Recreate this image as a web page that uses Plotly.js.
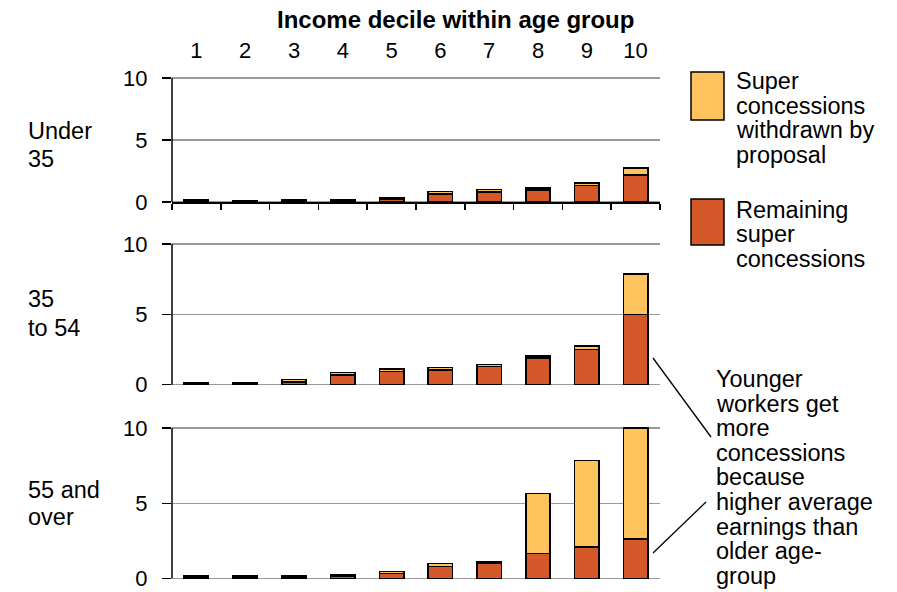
<!DOCTYPE html>
<html>
<head>
<meta charset="utf-8">
<script src="https://cdn.plot.ly/plotly-3.0.1.min.js"></script>
<style>
  html, body { margin: 0; padding: 0; background: #fff; }
  #chart { width: 897px; height: 592px; }
</style>
</head>
<body>
<div id="chart"></div>
<script>
// Income deciles (x categories)
const deciles = ['1', '2', '3', '4', '5', '6', '7', '8', '9', '10'];

// Age groups (one panel each), written line by line
const ageGroupLines = [['Under', '35'], ['35', 'to 54'], ['55 and', 'over']];

// Remaining super concessions by decile, per age group
const remainingUnder35 = [0.12, 0.06, 0.14, 0.14, 0.25, 0.66, 0.80, 0.95, 1.35, 2.16];
const remaining35to54  = [0.10, 0.10, 0.20, 0.70, 0.93, 1.05, 1.30, 1.89, 2.51, 5.00];
const remaining55plus  = [0.10, 0.10, 0.10, 0.18, 0.33, 0.79, 1.00, 1.66, 2.10, 2.62];

// Super concessions withdrawn by proposal, per age group
const withdrawnUnder35 = [0.06, 0.04, 0.06, 0.06, 0.10, 0.18, 0.20, 0.18, 0.19, 0.57];
const withdrawn35to54  = [0.05, 0.05, 0.16, 0.16, 0.17, 0.19, 0.14, 0.14, 0.24, 2.87];
const withdrawn55plus  = [0.05, 0.05, 0.05, 0.08, 0.13, 0.21, 0.11, 4.00, 5.74, 7.38];

// Value axis ticks
const yTicks = [0, 5, 10];

// Texts
const seriesNames = ['Remaining super concessions', 'Super concessions withdrawn by proposal'];
const legendWithdrawnLines = ['Super', 'concessions', 'withdrawn by', 'proposal'];
const legendRemainingLines = ['Remaining', 'super', 'concessions'];
const noteLines = ['Younger', 'workers get', 'more', 'concessions', 'because',
                   'higher average', 'earnings than', 'older age-', 'group'];
const axisTitle = '<b>Income decile within age group</b>';

// Styling
const RED = '#D5582B';
const YELLOW = '#FEC35C';
const FONT = 'Liberation Sans, Arial, sans-serif';
const TEXT_SIZE = 23.5;
const TICK_SIZE = 22;

// Page geometry (pixels) used to place panels, annotations and shapes
const W = 897, H = 592;
const M = { l: 172, r: 237, t: 75, b: 8 };
const PW = W - M.l - M.r, PH = H - M.t - M.b;
const px = x => (x - M.l) / PW;
const py = y => (H - M.b - y) / PH;

// Value range padded a little so the 0 and 10 grid lines are kept
const PAD = 0.2;
const yRange = [-PAD, 10 + PAD];
// domain of a panel whose 0 sits at pixel p0 and 10 at pixel p10
function panelDomain(p0, p10) {
  const unit = (p0 - p10) / 10;
  return [Math.max(0, py(p0 + PAD * unit)), Math.min(1, py(p10 - PAD * unit))];
}
const d1 = panelDomain(202, 78);
const d2 = panelDomain(384.7, 244);
const d3 = panelDomain(578.5, 428);

const remaining = [remainingUnder35, remaining35to54, remaining55plus];
const withdrawn = [withdrawnUnder35, withdrawn35to54, withdrawn55plus];
const yNames = ['y', 'y2', 'y3'];
const xNames = ['x', 'x2', 'x3'];

const traces = [];
for (let i = 0; i < 3; i++) {
  traces.push({
    type: 'bar', x: deciles, y: remaining[i], xaxis: xNames[i], yaxis: yNames[i],
    name: seriesNames[0], marker: { color: RED, line: { color: '#000', width: 1.5 } },
    showlegend: false, hoverinfo: 'skip'
  });
  traces.push({
    type: 'bar', x: deciles, y: withdrawn[i], xaxis: xNames[i], yaxis: yNames[i],
    name: seriesNames[1], marker: { color: YELLOW, line: { color: '#000', width: 1.5 } },
    showlegend: false, hoverinfo: 'skip'
  });
}

// Invisible trace that carries the decile labels along the top
traces.push({
  type: 'bar', x: deciles, y: deciles.map(() => 0), xaxis: 'x4', yaxis: 'y',
  showlegend: false, hoverinfo: 'skip', marker: { color: 'rgba(0,0,0,0)' }
});

const yBase = {
  range: yRange, tickvals: yTicks, ticks: 'outside', ticklen: 9, tickwidth: 1.5,
  tickcolor: '#000', showline: false,
  showgrid: true, gridcolor: '#9a9a9a', gridwidth: 1.2, zeroline: false,
  tickfont: { size: TICK_SIZE, color: '#000', family: FONT }, ticklabelstandoff: 10,
  ticklabeloverflow: 'allow', fixedrange: true
};
const xHidden = {
  type: 'category', range: [-0.5, 9.5], showline: false, ticks: '', showticklabels: false,
  showgrid: false, zeroline: false, fixedrange: true
};

// Text placed line by line with a fixed pitch
const annotations = [];
function addLines(lines, xLeft, yFirst, pitch, size) {
  lines.forEach((t, k) => {
    annotations.push({
      text: t, x: px(xLeft), y: py(yFirst + k * pitch), xref: 'paper', yref: 'paper',
      xanchor: 'left', yanchor: 'middle', align: 'left', showarrow: false,
      font: { size: size, color: '#000', family: FONT }
    });
  });
}

annotations.push({
  text: axisTitle, x: px(455), y: py(20), xref: 'paper', yref: 'paper',
  xanchor: 'center', yanchor: 'middle', showarrow: false,
  font: { size: 24, color: '#000', family: FONT }
});
addLines(ageGroupLines[0], 26, 131, 27.5, TEXT_SIZE);
addLines(ageGroupLines[1], 26, 299, 28.5, TEXT_SIZE);
addLines(ageGroupLines[2], 26, 490, 27, TEXT_SIZE);
addLines(legendWithdrawnLines, 734, 81, 24.5, TEXT_SIZE);
addLines(legendRemainingLines, 734, 210, 24.5, TEXT_SIZE);
addLines(noteLines, 714, 379, 24.6, TEXT_SIZE);

const shapes = [];
// left axis line of each panel, running from 0 to 10
yNames.forEach(yn => {
  shapes.push({ type: 'line', xref: 'x domain', yref: yn, x0: 0, x1: 0, y0: yTicks[0], y1: yTicks[2],
    line: { color: '#000', width: 1.5 }, layer: 'above' });
});
// legend swatches
shapes.push({ type: 'rect', xref: 'paper', yref: 'paper', x0: px(691), x1: px(724), y0: py(120), y1: py(72),
  fillcolor: YELLOW, line: { color: '#000', width: 1.5 } });
shapes.push({ type: 'rect', xref: 'paper', yref: 'paper', x0: px(691), x1: px(724), y0: py(245), y1: py(199),
  fillcolor: RED, line: { color: '#000', width: 1.5 } });
// callout leader lines
shapes.push({ type: 'line', xref: 'paper', yref: 'paper', x0: px(653), y0: py(358), x1: px(711), y1: py(437),
  line: { color: '#000', width: 1.3 } });
shapes.push({ type: 'line', xref: 'paper', yref: 'paper', x0: px(653), y0: py(553), x1: px(706), y1: py(502),
  line: { color: '#000', width: 1.3 } });

const layout = {
  width: W, height: H,
  margin: M,
  paper_bgcolor: '#fff', plot_bgcolor: 'rgba(0,0,0,0)',
  barmode: 'stack', bargap: 0.5,
  showlegend: false,
  font: { family: FONT, color: '#000', size: TEXT_SIZE },
  // baseline axis of the top panel, drawn at the value 0
  xaxis: {
    type: 'category', range: [-0.5, 9.5], anchor: 'free', position: py(202), side: 'bottom',
    showline: true, linecolor: '#000', linewidth: 1.5,
    ticks: 'outside', tickson: 'boundaries', ticklen: 6, tickwidth: 1.5, tickcolor: '#000',
    showticklabels: false, showgrid: false, zeroline: false, fixedrange: true
  },
  xaxis2: Object.assign({ anchor: 'y2' }, xHidden),
  xaxis3: Object.assign({ anchor: 'y3' }, xHidden),
  xaxis4: {
    type: 'category', range: [-0.5, 9.5], anchor: 'y', overlaying: 'x', side: 'top',
    showline: false, ticks: '', showgrid: false, zeroline: false,
    tickfont: { size: TICK_SIZE, color: '#000', family: FONT }, ticklabelstandoff: 12,
    fixedrange: true
  },
  yaxis: Object.assign({ domain: d1, anchor: 'x' }, yBase),
  yaxis2: Object.assign({ domain: d2, anchor: 'x2' }, yBase),
  yaxis3: Object.assign({ domain: d3, anchor: 'x3' }, yBase),
  annotations: annotations,
  shapes: shapes
};

Plotly.newPlot('chart', traces, layout, { staticPlot: true, displayModeBar: false });
</script>
</body>
</html>
